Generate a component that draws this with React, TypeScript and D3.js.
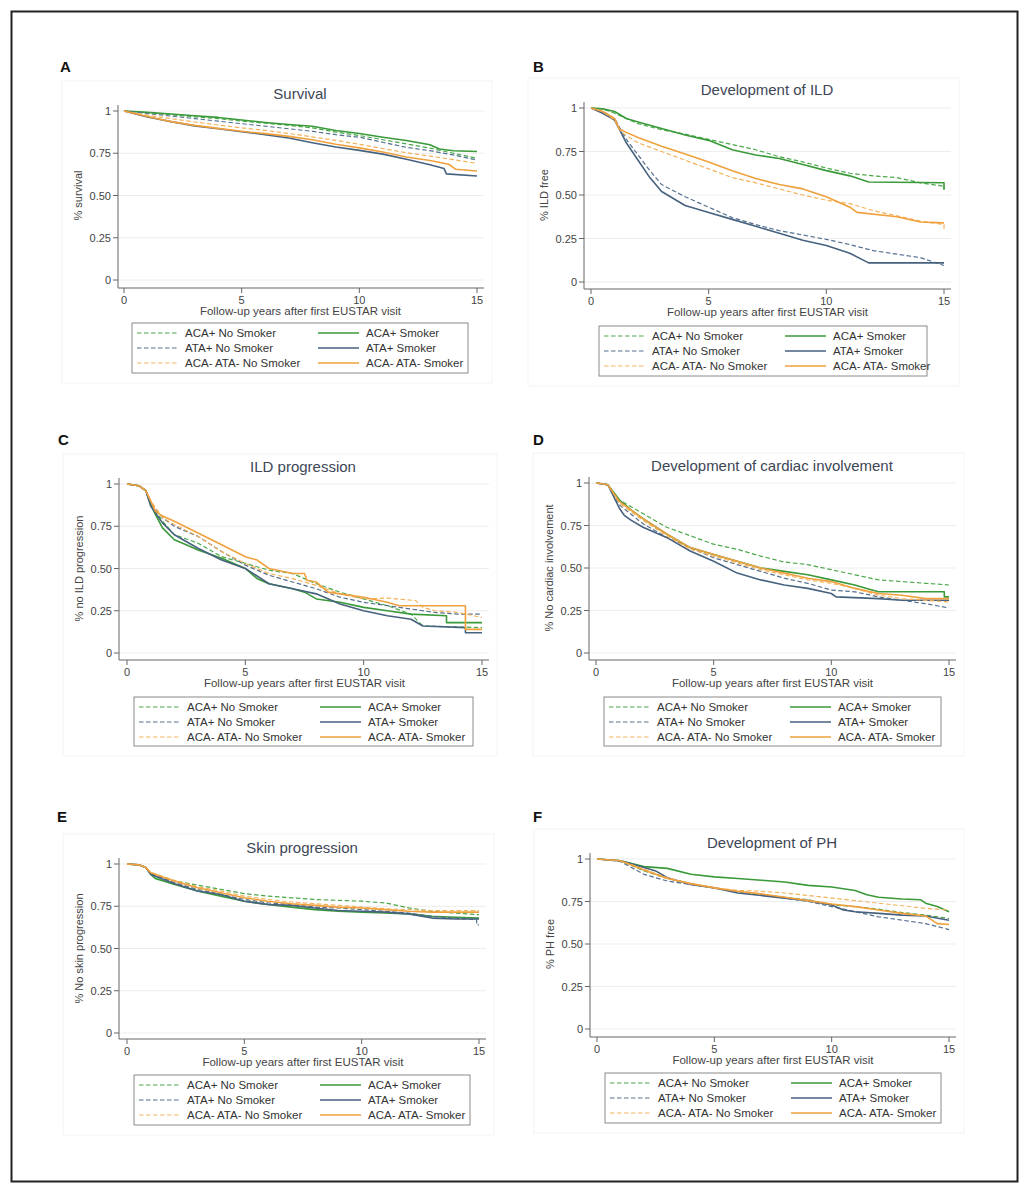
import * as d3 from 'd3';

type Pt = [number, number];

// ---- legend / series labels ----
const seriesLabels = [
  'ACA+ No Smoker',
  'ACA+ Smoker',
  'ATA+ No Smoker',
  'ATA+ Smoker',
  'ACA- ATA- No Smoker',
  'ACA- ATA- Smoker',
];
const yTicks = [0, 0.25, 0.5, 0.75, 1];
const yTickLabels = ['0', '0.25', '0.50', '0.75', '1'];
const xTicks = [0, 5, 10, 15];
const xTitle = 'Follow-up years after first EUSTAR visit';

// ---- A: Survival ----
const aAcaNs: Pt[] = [[0,1],[1,0.99],[2,0.978],[3,0.965],[4,0.955],[5,0.94],[6,0.928],[7,0.915],[8,0.9],[9,0.875],[10,0.855],[11,0.83],[12,0.805],[13,0.78],[14,0.75],[15,0.72]];
const aAcaS: Pt[] = [[0,1],[1,0.992],[2,0.982],[3,0.972],[4,0.962],[5,0.947],[6,0.932],[7,0.92],[8,0.91],[9,0.885],[10,0.867],[11,0.845],[12,0.825],[13,0.8],[13.4,0.775],[14,0.765],[15,0.76]];
const aAtaNs: Pt[] = [[0,1],[1,0.985],[2,0.97],[3,0.955],[4,0.94],[5,0.925],[6,0.91],[7,0.895],[8,0.88],[9,0.86],[10,0.845],[11,0.815],[12,0.785],[13,0.765],[14,0.74],[15,0.71]];
const aAtaS: Pt[] = [[0,1],[1,0.965],[2,0.937],[3,0.912],[4,0.895],[5,0.877],[6,0.86],[7,0.84],[8,0.812],[9,0.787],[10,0.767],[11,0.745],[12,0.715],[13,0.682],[13.6,0.66],[13.7,0.628],[15,0.615]];
const aNegNs: Pt[] = [[0,1],[1,0.975],[2,0.955],[3,0.935],[4,0.917],[5,0.9],[6,0.885],[7,0.867],[8,0.847],[9,0.826],[10,0.803],[11,0.778],[12,0.753],[13,0.733],[14,0.712],[15,0.69]];
const aNegS: Pt[] = [[0,1],[1,0.967],[2,0.937],[3,0.915],[4,0.897],[5,0.88],[6,0.866],[7,0.85],[8,0.83],[9,0.803],[10,0.782],[11,0.757],[12,0.728],[13,0.707],[13.8,0.685],[14.1,0.655],[15,0.645]];

// ---- B: Development of ILD ----
const bAcaNs: Pt[] = [[0,1],[0.5,0.995],[1,0.97],[2,0.91],[3,0.875],[4,0.85],[5,0.82],[6,0.79],[7,0.76],[8,0.72],[9,0.69],[10,0.655],[11,0.625],[12,0.61],[13,0.6],[14,0.57],[15,0.55],[15,0.535]];
const bAcaS: Pt[] = [[0,1],[0.5,0.995],[1,0.98],[1.5,0.94],[2,0.92],[3,0.882],[4,0.845],[5,0.814],[6,0.76],[7,0.73],[8,0.71],[9,0.675],[10,0.64],[11,0.61],[11.8,0.575],[15,0.57],[15,0.53]];
const bAtaNs: Pt[] = [[0,1],[0.5,0.98],[1,0.94],[1.5,0.82],[2,0.73],[2.5,0.64],[3,0.56],[4,0.49],[5,0.43],[6,0.37],[7,0.33],[8,0.295],[9,0.27],[10,0.245],[11,0.215],[12,0.18],[13,0.16],[14,0.14],[15,0.095]];
const bAtaS: Pt[] = [[0,1],[0.5,0.97],[1,0.93],[1.2,0.88],[1.5,0.8],[2,0.7],[2.5,0.6],[3,0.52],[3.5,0.48],[4,0.44],[5,0.4],[6,0.36],[7,0.32],[8,0.28],[9,0.24],[10,0.21],[11,0.165],[11.8,0.11],[15,0.11]];
const bNegNs: Pt[] = [[0,1],[0.5,0.98],[1,0.93],[1.3,0.86],[2,0.8],[3,0.75],[4,0.7],[5,0.65],[6,0.6],[7,0.57],[8,0.535],[9,0.5],[10,0.47],[11,0.45],[12,0.41],[13,0.38],[14,0.35],[15,0.33],[15,0.29]];
const bNegS: Pt[] = [[0,1],[0.5,0.98],[1,0.94],[1.2,0.88],[1.5,0.86],[2,0.83],[3,0.78],[4,0.735],[5,0.69],[6,0.64],[7,0.595],[8,0.56],[9,0.535],[10,0.49],[11,0.43],[11.3,0.4],[13,0.375],[14,0.345],[15,0.34]];

// ---- C: ILD progression ----
const cAcaNs: Pt[] = [[0,1],[0.5,0.99],[0.8,0.96],[1,0.88],[1.5,0.78],[2,0.7],[3,0.65],[4,0.57],[5,0.53],[6,0.49],[7,0.47],[8,0.41],[9,0.36],[10,0.32],[11,0.28],[12,0.23],[12.5,0.16],[15,0.15]];
const cAcaS: Pt[] = [[0,1],[0.5,0.99],[0.8,0.96],[1,0.88],[1.2,0.82],[1.5,0.74],[2,0.67],[2.5,0.64],[3,0.61],[4,0.56],[5,0.5],[5.5,0.44],[6,0.41],[7,0.38],[7.5,0.36],[8,0.32],[9,0.3],[10,0.27],[11,0.25],[12,0.23],[13.5,0.22],[13.5,0.18],[15,0.18]];
const cAtaNs: Pt[] = [[0,1],[0.5,0.99],[0.8,0.96],[1,0.89],[1.5,0.8],[2,0.75],[3,0.69],[4,0.6],[5,0.52],[6,0.46],[7,0.42],[8,0.38],[9,0.33],[10,0.3],[11,0.28],[12,0.26],[13,0.24],[14,0.23],[15,0.23]];
const cAtaS: Pt[] = [[0,1],[0.5,0.99],[0.8,0.96],[1,0.87],[1.5,0.77],[2,0.7],[3,0.62],[4,0.55],[5,0.5],[6,0.41],[7,0.38],[8,0.35],[9,0.29],[10,0.25],[11,0.22],[12,0.2],[12.5,0.16],[14.3,0.15],[14.3,0.12],[15,0.12]];
const cNegNs: Pt[] = [[0,1],[0.5,0.99],[0.8,0.96],[1,0.9],[1.5,0.8],[2,0.76],[3,0.69],[4,0.6],[5,0.53],[6,0.47],[7,0.44],[8,0.4],[9,0.35],[10,0.32],[11,0.325],[12.2,0.31],[12.5,0.27],[13,0.25],[14,0.24],[15,0.21]];
const cNegS: Pt[] = [[0,1],[0.5,0.99],[0.8,0.96],[1,0.9],[1.2,0.84],[1.5,0.81],[2,0.78],[3,0.71],[4,0.64],[5,0.57],[5.5,0.55],[6,0.5],[7,0.47],[7.5,0.47],[7.6,0.43],[8,0.42],[8.5,0.36],[9,0.35],[10,0.33],[11,0.3],[11.5,0.28],[14.3,0.28],[14.3,0.14],[15,0.14]];

// ---- D: Development of cardiac involvement ----
const dAcaNs: Pt[] = [[0,1],[0.5,0.99],[1,0.9],[1.5,0.86],[2,0.82],[3,0.74],[4,0.69],[5,0.64],[6,0.61],[7,0.57],[8,0.535],[9,0.52],[10,0.49],[11,0.46],[12,0.43],[13,0.42],[14,0.41],[15,0.4]];
const dAcaS: Pt[] = [[0,1],[0.5,0.99],[1,0.9],[1.5,0.84],[2,0.79],[3,0.7],[4,0.62],[5,0.58],[6,0.54],[7,0.5],[8,0.48],[9,0.46],[10,0.43],[11,0.4],[11.5,0.38],[12,0.36],[14.8,0.36],[14.8,0.33],[15,0.33]];
const dAtaNs: Pt[] = [[0,1],[0.5,0.99],[1,0.87],[2,0.76],[3,0.68],[4,0.62],[5,0.56],[6,0.52],[7,0.48],[8,0.44],[9,0.41],[10,0.37],[11,0.36],[12,0.33],[13,0.31],[14,0.29],[15,0.265]];
const dAtaS: Pt[] = [[0,1],[0.5,0.99],[1,0.85],[1.2,0.81],[1.5,0.78],[2,0.74],[3,0.68],[4,0.6],[5,0.54],[6,0.47],[7,0.43],[8,0.4],[9,0.38],[10,0.35],[10.2,0.33],[12,0.32],[13,0.31],[15,0.31]];
const dNegNs: Pt[] = [[0,1],[0.5,0.99],[1,0.88],[2,0.78],[3,0.69],[4,0.61],[5,0.57],[6,0.53],[7,0.49],[8,0.46],[9,0.43],[10,0.41],[11,0.38],[12,0.34],[13,0.32],[14,0.31],[15,0.3]];
const dNegS: Pt[] = [[0,1],[0.5,0.99],[1,0.89],[2,0.79],[3,0.7],[4,0.62],[5,0.58],[6,0.54],[7,0.5],[8,0.47],[9,0.44],[10,0.42],[11,0.38],[12,0.35],[13,0.34],[14,0.32],[15,0.32]];

// ---- E: Skin progression ----
const eAcaNs: Pt[] = [[0,1],[0.5,0.995],[0.8,0.98],[1,0.95],[1.2,0.925],[2,0.9],[3,0.875],[4,0.85],[5,0.825],[6,0.81],[7,0.8],[8,0.79],[9,0.785],[10,0.78],[11,0.77],[12,0.74],[13,0.72],[14,0.71],[15,0.7]];
const eAcaS: Pt[] = [[0,1],[0.5,0.995],[0.8,0.98],[1,0.94],[1.2,0.915],[2,0.88],[3,0.84],[4,0.81],[5,0.78],[6,0.76],[7,0.745],[8,0.73],[9,0.72],[10,0.715],[11,0.71],[12,0.705],[13,0.69],[14,0.685],[15,0.68]];
const eAtaNs: Pt[] = [[0,1],[0.5,0.995],[0.8,0.98],[1,0.945],[2,0.89],[3,0.85],[4,0.82],[5,0.79],[6,0.77],[7,0.76],[8,0.745],[9,0.74],[10,0.73],[11,0.72],[12,0.71],[13,0.69],[14,0.68],[14.9,0.67],[14.9,0.64],[15,0.64]];
const eAtaS: Pt[] = [[0,1],[0.5,0.995],[0.8,0.98],[1,0.94],[2,0.885],[3,0.84],[4,0.82],[5,0.78],[6,0.76],[7,0.755],[8,0.74],[9,0.725],[10,0.72],[11,0.715],[12,0.705],[13,0.68],[14,0.675],[15,0.675]];
const eNegNs: Pt[] = [[0,1],[0.5,0.995],[0.8,0.98],[1,0.95],[2,0.905],[3,0.865],[4,0.84],[5,0.81],[6,0.79],[7,0.775],[8,0.765],[9,0.755],[10,0.745],[11,0.735],[12,0.73],[13,0.725],[14,0.725],[15,0.725]];
const eNegS: Pt[] = [[0,1],[0.5,0.995],[0.8,0.98],[1,0.95],[2,0.9],[3,0.86],[4,0.83],[5,0.8],[6,0.78],[7,0.765],[8,0.755],[9,0.745],[10,0.74],[11,0.73],[12,0.72],[13,0.715],[14,0.715],[15,0.715]];

// ---- F: Development of PH ----
const fAcaNs: Pt[] = [[0,1],[1,0.99],[2,0.93],[3,0.885],[4,0.855],[5,0.83],[6,0.81],[7,0.79],[8,0.775],[9,0.76],[10,0.73],[11,0.72],[12,0.705],[13,0.685],[14,0.67],[15,0.65]];
const fAcaS: Pt[] = [[0,1],[1,0.99],[2,0.955],[3,0.945],[4,0.91],[5,0.895],[6,0.885],[7,0.875],[8,0.865],[9,0.845],[10,0.835],[11,0.815],[11.5,0.79],[12,0.775],[13,0.765],[13.8,0.76],[14,0.74],[14.5,0.72],[15,0.69]];
const fAtaNs: Pt[] = [[0,1],[1,0.985],[2,0.91],[3,0.87],[4,0.85],[5,0.83],[6,0.81],[7,0.79],[8,0.77],[9,0.75],[10,0.72],[11,0.69],[12,0.66],[13,0.64],[14,0.62],[15,0.585]];
const fAtaS: Pt[] = [[0,1],[1,0.99],[2,0.95],[2.5,0.93],[3,0.89],[4,0.85],[5,0.83],[6,0.8],[7,0.785],[8,0.77],[9,0.755],[10,0.73],[10.5,0.7],[11,0.69],[12,0.68],[13,0.67],[14,0.665],[15,0.64]];
const fNegNs: Pt[] = [[0,1],[1,0.99],[2,0.94],[3,0.89],[4,0.855],[5,0.83],[6,0.815],[7,0.81],[8,0.8],[9,0.785],[10,0.77],[11,0.755],[12,0.74],[13,0.725],[14,0.71],[15,0.7]];
const fNegS: Pt[] = [[0,1],[1,0.99],[2,0.935],[3,0.885],[4,0.855],[5,0.83],[6,0.81],[7,0.795],[8,0.775],[9,0.755],[10,0.735],[11,0.72],[12,0.7],[13,0.68],[14,0.665],[14.5,0.62],[15,0.615]];

// ---- styling per series (same order as seriesLabels) ----
const seriesStyle = [
  { color: '#4aa84a', dash: '4.5,2.5', width: 1.2 },
  { color: '#3a9a3a', dash: '', width: 1.6 },
  { color: '#55708f', dash: '4.5,2.5', width: 1.2 },
  { color: '#46627f', dash: '', width: 1.6 },
  { color: '#f3b35c', dash: '4.5,2.5', width: 1.2 },
  { color: '#f0a03c', dash: '', width: 1.6 },
];

// layout of each panel (pixel positions in the page)
const panels = [
  { key: 'A', title: 'Survival', yTitle: '% survival', lx: 60, ly: 72, x0: 124, x15: 477, y1: 111, y0: 280, axL: 118, axB: 288, tx: 300, ty: 99, leg: [132, 323, 336, 50], series: [aAcaNs, aAcaS, aAtaNs, aAtaS, aNegNs, aNegS] },
  { key: 'B', title: 'Development of ILD', yTitle: '% ILD free', lx: 533, ly: 72, x0: 591, x15: 944, y1: 108, y0: 282, axL: 584, axB: 289, tx: 767, ty: 95, leg: [599, 326, 328, 50], series: [bAcaNs, bAcaS, bAtaNs, bAtaS, bNegNs, bNegS] },
  { key: 'C', title: 'ILD progression', yTitle: '% no ILD progression', lx: 58, ly: 445, x0: 127, x15: 482, y1: 484, y0: 653, axL: 119, axB: 660, tx: 303, ty: 472, leg: [134, 697, 339, 49], series: [cAcaNs, cAcaS, cAtaNs, cAtaS, cNegNs, cNegS] },
  { key: 'D', title: 'Development of cardiac involvement', yTitle: '% No cardiac involvement', lx: 533, ly: 445, x0: 596, x15: 949, y1: 483, y0: 653, axL: 589, axB: 660, tx: 772, ty: 471, leg: [604, 697, 337, 49], series: [dAcaNs, dAcaS, dAtaNs, dAtaS, dNegNs, dNegS] },
  { key: 'E', title: 'Skin progression', yTitle: '% No skin progression', lx: 57, ly: 822, x0: 127, x15: 479, y1: 864, y0: 1033, axL: 119, axB: 1039, tx: 302, ty: 853, leg: [134, 1075, 336, 50], series: [eAcaNs, eAcaS, eAtaNs, eAtaS, eNegNs, eNegS] },
  { key: 'F', title: 'Development of PH', yTitle: '% PH free', lx: 533, ly: 822, x0: 597, x15: 949, y1: 859, y0: 1029, axL: 590, axB: 1037, tx: 772, ty: 848, leg: [605, 1073, 336, 50], series: [fAcaNs, fAcaS, fAtaNs, fAtaS, fNegNs, fNegS] },
];

const FONT = 'Arial, "Liberation Sans", Helvetica, sans-serif';

function Panel({ p }: { p: typeof panels[number] }) {
  const x = d3.scaleLinear().domain([0, 15]).range([p.x0, p.x15]);
  const y = d3.scaleLinear().domain([0, 1]).range([p.y0, p.y1]);
  const line = d3.line<Pt>().x((d) => x(d[0])).y((d) => y(d[1]));
  const right = p.x15 + 7;
  const [lgX, lgY, lgW, lgH] = p.leg;
  const rowH = 15;

  return (
    <g>
      {/* faint graph region */}
      <rect x={p.axL - 56} y={p.y1 - 30} width={right - p.axL + 64} height={lgY + lgH + 10 - (p.y1 - 30)}
        fill="#fff" stroke="#f4f4f4" strokeWidth={1} />
      <text x={p.lx} y={p.ly} fontFamily={FONT} fontWeight={700} fontSize={15} fill="#111">{p.key}</text>
      <text x={p.tx} y={p.ty} textAnchor="middle" fontFamily={FONT} fontSize={15} fill="#3d4656">{p.title}</text>

      {/* gridlines */}
      {yTicks.map((t) => (
        <line key={'g' + t} x1={p.axL} x2={right} y1={y(t)} y2={y(t)} stroke="#ededed" strokeWidth={1} />
      ))}

      {/* axes */}
      <line x1={p.axL} x2={p.axL} y1={p.y1 - 6} y2={p.axB} stroke="#666" strokeWidth={1} />
      <line x1={p.axL} x2={right} y1={p.axB} y2={p.axB} stroke="#666" strokeWidth={1} />
      {yTicks.map((t, i) => (
        <g key={'y' + t}>
          <line x1={p.axL - 5} x2={p.axL} y1={y(t)} y2={y(t)} stroke="#666" strokeWidth={1} />
          <text x={p.axL - 7} y={y(t) + 4} textAnchor="end" fontFamily={FONT} fontSize={11} fill="#444">{yTickLabels[i]}</text>
        </g>
      ))}
      {xTicks.map((t) => (
        <g key={'x' + t}>
          <line x1={x(t)} x2={x(t)} y1={p.axB} y2={p.axB + 5} stroke="#666" strokeWidth={1} />
          <text x={x(t)} y={p.axB + 16} textAnchor="middle" fontFamily={FONT} fontSize={11} fill="#444">{t}</text>
        </g>
      ))}
      <text x={(p.x0 + p.x15) / 2} y={p.axB + 27} textAnchor="middle" fontFamily={FONT} fontSize={11.5} fill="#444">{xTitle}</text>
      <text transform={`translate(${p.axL - 36},${(p.y0 + p.y1) / 2}) rotate(-90)`} textAnchor="middle"
        fontFamily={FONT} fontSize={11} fill="#444">{p.yTitle}</text>

      {/* curves */}
      {p.series.map((s, i) => (
        <path key={'s' + i} d={line(s) || ''} fill="none" stroke={seriesStyle[i].color}
          strokeWidth={seriesStyle[i].width} strokeDasharray={seriesStyle[i].dash || undefined}
          strokeLinejoin="round" />
      ))}

      {/* legend */}
      <rect x={lgX} y={lgY} width={lgW} height={lgH} fill="#fff" stroke="#8a8a8a" strokeWidth={1} />
      {seriesLabels.map((lab, i) => {
        const col = i % 2;
        const row = Math.floor(i / 2);
        const cy = lgY + 10 + row * rowH;
        const sx = lgX + (col === 0 ? 5 : 186);
        return (
          <g key={'l' + i}>
            <line x1={sx} x2={sx + 41} y1={cy} y2={cy} stroke={seriesStyle[i].color}
              strokeWidth={seriesStyle[i].width} strokeDasharray={seriesStyle[i].dash || undefined} />
            <text x={sx + 48} y={cy + 4} fontFamily={FONT} fontSize={11.5} fill="#333">{lab}</text>
          </g>
        );
      })}
    </g>
  );
}

export default function App() {
  return (
    <div style={{ position: 'absolute', left: 0, top: 0 }}>
      <svg width={1031} height={1193} style={{ display: 'block', background: '#fff' }}>
        <rect x={11.5} y={11.5} width={1006} height={1170} fill="none" stroke="#222" strokeWidth={2} />
        {panels.map((p) => (
          <Panel key={p.key} p={p} />
        ))}
      </svg>
    </div>
  );
}
